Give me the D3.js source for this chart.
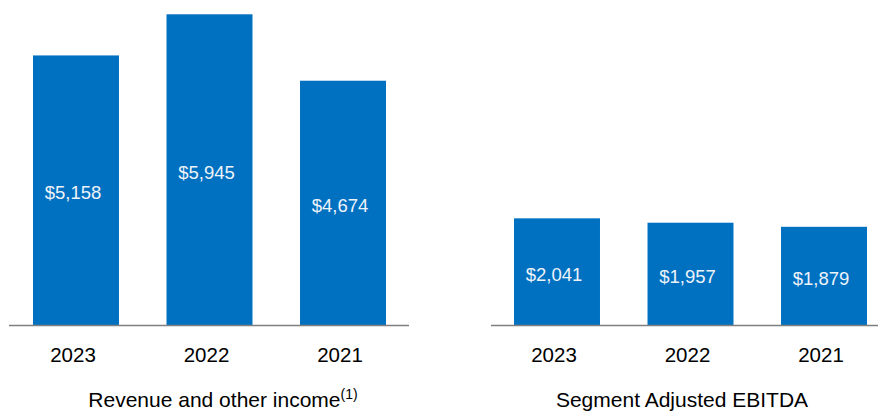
<!DOCTYPE html>
<html>
<head>
<meta charset="utf-8">
<script src="https://cdn.jsdelivr.net/npm/d3@7"></script>
<style>
  html, body { margin: 0; padding: 0; background: #fff; }
  svg { display: block; font-family: "Liberation Sans", Arial, sans-serif; }
</style>
</head>
<body>
<svg id="chart" width="878" height="412"></svg>
<script>
const years = ["2023", "2022", "2021"];
const revenueValues = [5158, 5945, 4674];
const ebitdaValues = [2041, 1957, 1879];
const revenueTitle = "Revenue and other income";
const revenueNote = "(1)";
const ebitdaTitle = "Segment Adjusted EBITDA";

const svg = d3.select("#chart");
const barColor = "#0070C0";
const baseY = 325;

const y = d3.scaleLinear().domain([0, 5945]).range([baseY, 14.3]);
const fmt = v => "$" + d3.format(",")(v);

function panel(values, x0, x1, lineX0, lineX1, title, note, titleX) {
  const x = d3.scaleBand().domain(years).range([x0, x1]).paddingInner(0.356).paddingOuter(0);
  const g = svg.append("g");
  const data = years.map((yr, i) => ({ yr, v: values[i] }));

  g.selectAll("rect").data(data).join("rect")
    .attr("x", d => x(d.yr))
    .attr("width", x.bandwidth())
    .attr("y", d => y(d.v))
    .attr("height", d => baseY - y(d.v))
    .attr("fill", barColor);

  g.append("line")
    .attr("x1", lineX0).attr("x2", lineX1)
    .attr("y1", baseY + 0.5).attr("y2", baseY + 0.5)
    .attr("stroke", "#7f7f7f").attr("stroke-width", 1.6);

  g.selectAll(".val").data(data).join("text")
    .attr("class", "val")
    .attr("x", d => x(d.yr) + x.bandwidth() / 2 - 3)
    .attr("y", d => (y(d.v) + baseY) / 2 + 9)
    .attr("text-anchor", "middle")
    .attr("font-size", "18.5px")
    .attr("fill", "#eef3fa")
    .text(d => fmt(d.v));

  g.selectAll(".yr").data(data).join("text")
    .attr("class", "yr")
    .attr("x", d => x(d.yr) + x.bandwidth() / 2 - 3)
    .attr("y", 362)
    .attr("text-anchor", "middle")
    .attr("font-size", "20.5px")
    .attr("fill", "#000")
    .text(d => d.yr);

  const t = g.append("text")
    .attr("x", titleX)
    .attr("y", 407)
    .attr("text-anchor", "middle")
    .attr("font-size", "21px")
    .attr("fill", "#000");
  t.append("tspan").text(title);
  if (note) {
    t.append("tspan").attr("dy", -8).attr("font-size", "14px").text(note);
  }
}

panel(revenueValues, 33, 386, 9, 409, revenueTitle, revenueNote, 223);
panel(ebitdaValues, 514, 867, 491, 878, ebitdaTitle, null, 682);
</script>
</body>
</html>
